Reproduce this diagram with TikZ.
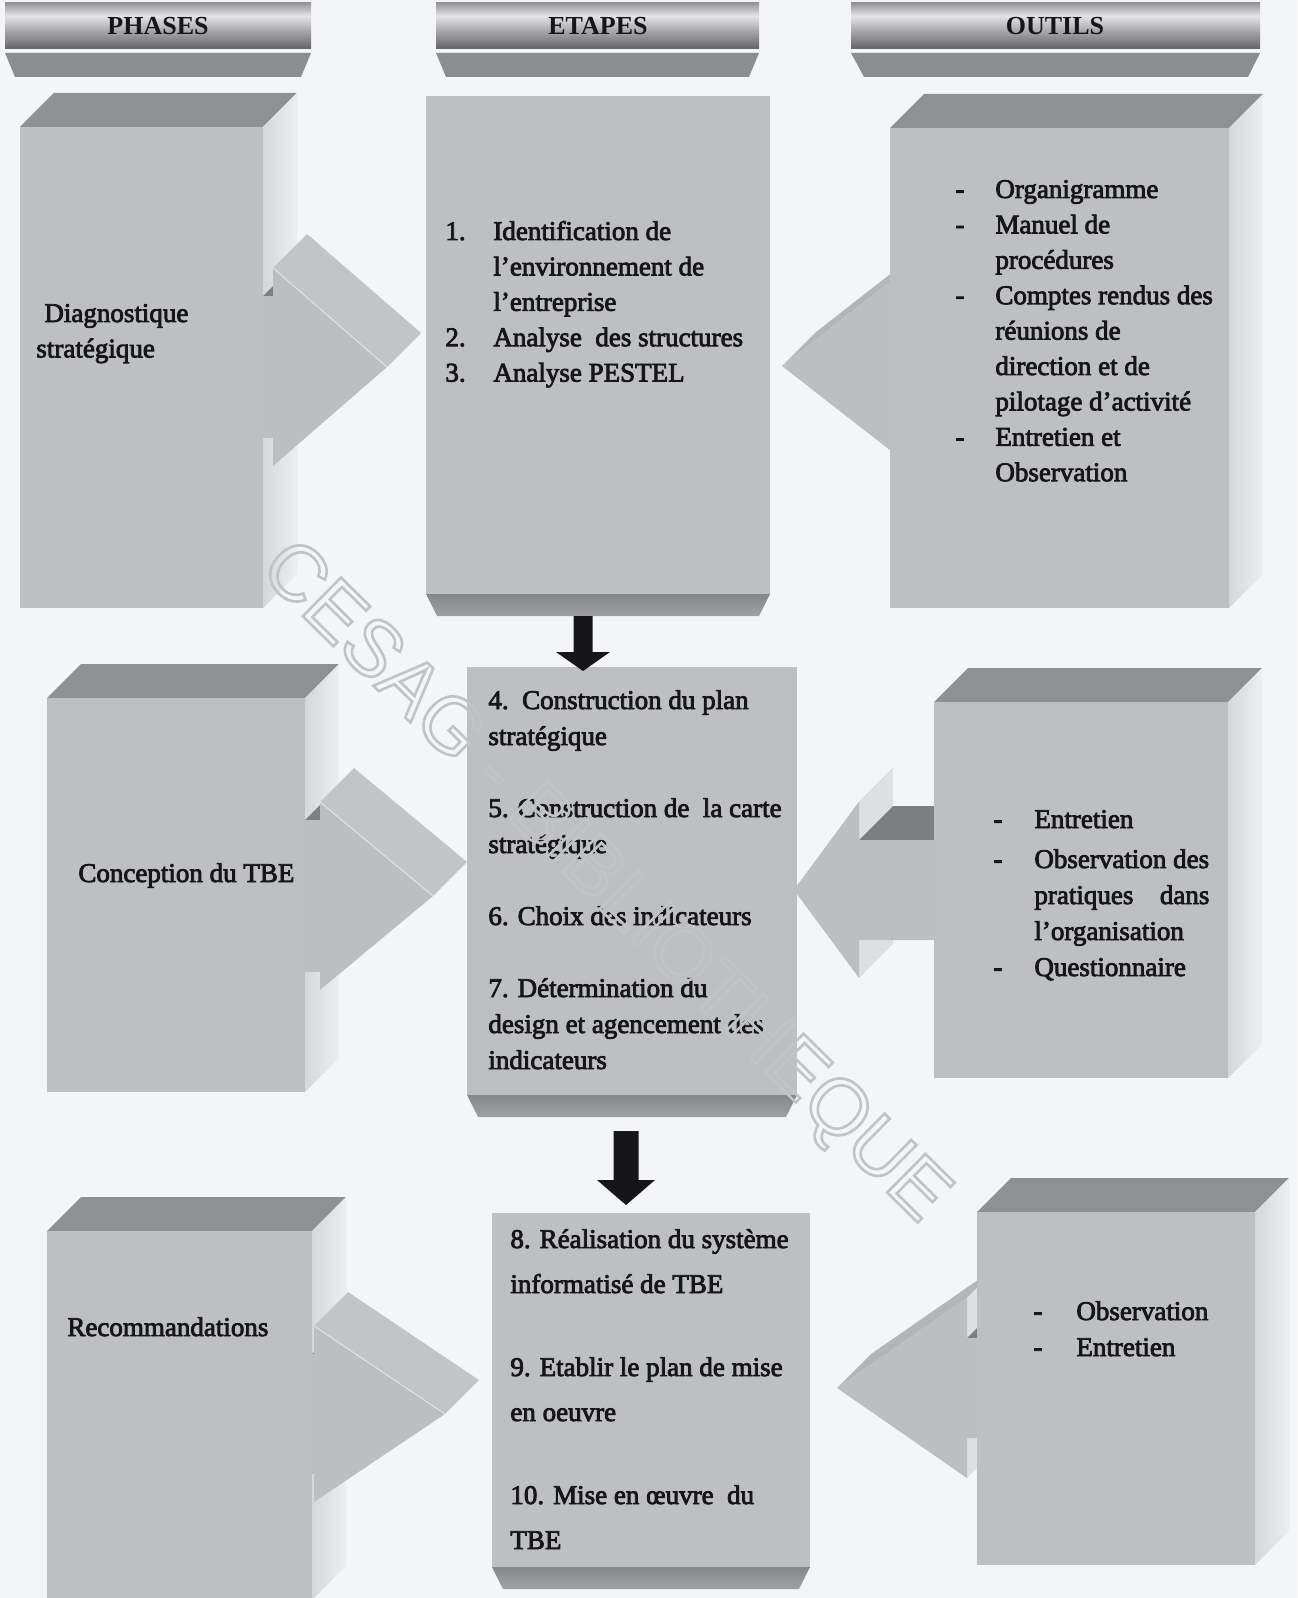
\documentclass[tikz,border=0pt]{standalone}
\usepackage{fontspec}
\setmainfont{Liberation Serif}
\newfontfamily\markfont{Liberation Sans}

\definecolor{paper}{RGB}{243,245,248}
\definecolor{ink}{RGB}{22,22,24}
\definecolor{facefront}{RGB}{190,191,195}
\definecolor{facetop}{RGB}{143,144,147}
\definecolor{facesideA}{RGB}{214,215,219}
\definecolor{facesideB}{RGB}{237,238,241}
\definecolor{facebottomA}{RGB}{134,135,138}
\definecolor{facebottomB}{RGB}{160,161,164}
\definecolor{arrowfront}{RGB}{189,190,194}
\definecolor{arrowtop}{RGB}{195,196,200}
\definecolor{arrowslant}{RGB}{180,181,185}
\definecolor{arrowstep}{RGB}{222,223,226}
\definecolor{arrowshaft}{RGB}{126,127,131}
\definecolor{bandgray}{RGB}{140,141,145}
\definecolor{markline}{RGB}{194,195,199}
\definecolor{barlow}{RGB}{100,100,102}
\definecolor{barmid}{RGB}{168,168,170}
\definecolor{barhigh}{RGB}{228,228,230}
\definecolor{bartop}{RGB}{150,150,152}

\pgfdeclareverticalshading{headbar}{100bp}{%
  color(0bp)=(barlow); color(25bp)=(barlow); color(45bp)=(barmid);
  color(61bp)=(barhigh); color(75bp)=(bartop); color(100bp)=(bartop)}

% depth of the extruded faces, in pixel units
\newcommand\boxdepth{34}

% slightly heavier glyphs (fill and stroke), and back to plain fill
\newcommand\heavyink{\special{pdf:literal direct 2 Tr 0.4 w}}
\newcommand\plainink{\special{pdf:literal direct 0 Tr}}

% block with visible top and right faces: name, x1, y1, x2, y2 of the front face
\newcommand\sidebox[5]{%
  \fill[facetop] (#2,#3) -- (#2+\boxdepth,#3-\boxdepth) -- (#4+\boxdepth,#3-\boxdepth) -- (#4,#3) -- cycle;
  \shade[left color=facesideA,right color=facesideB] (#4,#3) -- (#4+\boxdepth,#3-\boxdepth)
        -- (#4+\boxdepth,#5-\boxdepth) -- (#4,#5) -- cycle;
  \fill[facefront] (#2,#3) rectangle (#4,#5);
  \coordinate (#1) at (#2/2+#4/2,#3/2+#5/2);
}

% block with a bevelled bottom face: name, x1, y1, x2, y2 of the front face
\newcommand\stagebox[5]{%
  \shade[top color=facebottomA,bottom color=facebottomB] (#2,#5) -- (#4,#5) -- (#4-11,#5+22) -- (#2+11,#5+22) -- cycle;
  \fill[facefront] (#2,#3) rectangle (#4,#5);
  \coordinate (#1) at (#2/2+#4/2,#3/2+#5/2);
}

% extruded arrow pointing right: shaft start x, head base x, centre y, head half height, head length, shaft half height
\newcommand\rightblock[6]{%
  \fill[arrowshaft] (#1,#3-#6) -- (#1+\boxdepth,#3-#6-\boxdepth) -- (#2+\boxdepth,#3-#6-\boxdepth) -- (#2,#3-#6) -- cycle;
  \fill[arrowfront] (#1,#3-#6) rectangle (#2,#3+#6);
  \fill[arrowfront] (#2,#3-#4) -- (#2+#5,#3) -- (#2,#3+#4) -- cycle;
  \fill[arrowtop] (#2,#3-#4) -- (#2+\boxdepth,#3-#4-\boxdepth) -- (#2+#5+\boxdepth,#3-\boxdepth) -- (#2+#5,#3) -- cycle;
  \draw[ridge] (#2,#3-#4) -- (#2+#5,#3);
}

% extruded arrow pointing left: tip x, head base x, shaft end x, centre y, head half height, shaft half height
\newcommand\leftblock[6]{%
  \fill[arrowslant] (#1,#4) -- (#1+\boxdepth,#4-\boxdepth) -- (#2+\boxdepth,#4-#5-\boxdepth) -- (#2,#4-#5) -- cycle;
  \fill[arrowstep] (#2,#4-#5) -- (#2+\boxdepth,#4-#5-\boxdepth) -- (#2+\boxdepth,#4-#6-\boxdepth) -- (#2,#4-#6) -- cycle;
  \fill[arrowstep] (#2,#4+#6) -- (#2+\boxdepth,#4+#6-\boxdepth) -- (#2+\boxdepth,#4+#5-\boxdepth) -- (#2,#4+#5) -- cycle;
  \fill[arrowshaft] (#2,#4-#6) -- (#2+\boxdepth,#4-#6-\boxdepth) -- (#3+\boxdepth,#4-#6-\boxdepth) -- (#3,#4-#6) -- cycle;
  \fill[arrowfront] (#1,#4) -- (#2,#4-#5) -- (#2,#4-#6) -- (#3,#4-#6) -- (#3,#4+#6) -- (#2,#4+#6) -- (#2,#4+#5) -- cycle;
}

\begin{document}
\begin{tikzpicture}[x=0.5pt,y=-0.5pt,
  txt/.style={inner sep=0pt,anchor=base west,text=ink,font=\fontsize{13.5}{17.7}\selectfont},
  headtext/.style={inner sep=0pt,text=ink,font=\bfseries\fontsize{13}{15}\selectfont},
  ridge/.style={draw=white!55!arrowfront,line width=0.5pt}]
\useasboundingbox (0,0) rectangle (1297,1598);
\begin{scope}
\clip (0,0) rectangle (1297,1598);
\fill[paper] (0,0) rectangle (1297,1598);

% column headings
\shade[shading=headbar] (5,3) rectangle (311,49);
\shade[shading=headbar] (436,3) rectangle (759,49);
\shade[shading=headbar] (851,3) rectangle (1260,49);
\fill[bandgray] (5,53) -- (311,53) -- (301,77) -- (15,77) -- cycle;
\fill[bandgray] (436,53) -- (759,53) -- (749,77) -- (446,77) -- cycle;
\fill[bandgray] (851,53) -- (1260,53) -- (1248,77) -- (864,77) -- cycle;

% phase blocks
\sidebox{L1}{20}{127}{263}{608}
\sidebox{L2}{47}{698}{305}{1092}
\sidebox{L3}{47}{1231}{312}{1600}

% arrows from phases to steps
\rightblock{263}{273}{367}{99}{114}{71}
\rightblock{305}{320}{896}{94}{113}{76}
\rightblock{312}{314}{1414}{88}{131}{60}

% step blocks
\stagebox{M1}{426}{96}{770}{594}
\stagebox{M2}{467}{667}{797}{1095}
\stagebox{M3}{492}{1213}{810}{1567}

% arrows from tools to steps
\leftblock{782}{900}{900}{366}{92}{55}
\leftblock{794}{859}{934}{890}{88}{50}
\leftblock{837}{967}{977}{1388}{90}{50}

% tool blocks
\sidebox{R1}{890}{128}{1229}{608}
\sidebox{R2}{934}{702}{1228}{1078}
\sidebox{R3}{977}{1212}{1255}{1565}

% black arrows between the step blocks
\coordinate (m1s) at (583,616);
\coordinate (m2n) at (583,671);
\coordinate (m2s) at (626,1131);
\coordinate (m3n) at (626,1205);
\fill[ink] (m1s) ++(-9.5,0) -- ++(19,0) -- ++(0,36) -- ++(17.5,0) -- (m2n) -- ++(-27,-19) -- ++(17.5,0) -- cycle;
\fill[ink] (m2s) ++(-12.5,0) -- ++(25,0) -- ++(0,49) -- ++(16.5,0) -- (m3n) -- ++(-29,-25) -- ++(16.5,0) -- cycle;

% headings
\node[headtext] (tphases) at (158,26) {PHASES};
\node[headtext] (tetapes) at (598,26) {ETAPES};
\node[headtext] (toutils) at (1055,26) {OUTILS};

% phases
\node[txt] (pdiag) at (36,322) {\heavyink\parbox[t]{150pt}{\fontsize{13.5}{17.7}\selectfont
  \hspace*{4pt}Diagnostique\\stratégique}\plainink};
\node[txt] (pconc) at (78,882) {\heavyink Conception du TBE\plainink};
\node[txt] (preco) at (67,1336) {\heavyink Recommandations\plainink};

% steps
\node[txt] (esteps1) at (445,240) {\heavyink\parbox[t]{220pt}{\fontsize{13.5}{17.7}\selectfont
  \makebox[24pt][l]{1.}Identification de\\
  \hspace*{24pt}l’environnement de\\
  \hspace*{24pt}l’entreprise\\
  \makebox[24pt][l]{2.}Analyse\ \ des structures\\
  \makebox[24pt][l]{3.}Analyse PESTEL}\plainink};
\node[txt] (esteps2) at (488,709) {\heavyink\parbox[t]{220pt}{\fontsize{13.5}{18}\selectfont
  4.\ \ Construction du plan\\
  stratégique\\[18pt]
  5. Construction de\ \ la carte\\
  stratégique\\[18pt]
  6. Choix des indicateurs\\[18pt]
  7. Détermination du\\
  design et agencement des\\
  indicateurs}\plainink};
\node[txt] (esteps3) at (510,1248) {\heavyink\parbox[t]{220pt}{\fontsize{13.5}{22.5}\selectfont
  8. Réalisation du système\\
  informatisé de TBE\\[19pt]
  9. Etablir le plan de mise\\
  en oeuvre\\[19pt]
  10. Mise en œuvre\ \ du\\
  TBE}\plainink};

% tools
\node[txt] (otools1) at (955,198) {\heavyink\parbox[t]{200pt}{\fontsize{13.5}{17.7}\selectfont
  \makebox[20pt][l]{-}Organigramme\\
  \makebox[20pt][l]{-}Manuel de\\
  \hspace*{20pt}procédures\\
  \makebox[20pt][l]{-}Comptes rendus des\\
  \hspace*{20pt}réunions de\\
  \hspace*{20pt}direction et de\\
  \hspace*{20pt}pilotage d’activité\\
  \makebox[20pt][l]{-}Entretien et\\
  \hspace*{20pt}Observation}\plainink};
\node[txt] (otools2) at (993,828) {\heavyink\parbox[t]{200pt}{\fontsize{13.5}{18}\selectfont
  \makebox[20.5pt][l]{-}Entretien\\[2pt]
  \makebox[20.5pt][l]{-}Observation des\\
  \hspace*{20.5pt}\hbox to 87.5pt{pratiques\hfill dans}\\
  \hspace*{20.5pt}l’organisation\\
  \makebox[20.5pt][l]{-}Questionnaire}\plainink};
\node[txt] (otools3) at (1033,1320) {\heavyink\parbox[t]{200pt}{\fontsize{13.5}{18}\selectfont
  \makebox[21.5pt][l]{-}Observation\\
  \makebox[21.5pt][l]{-}Entretien}\plainink};

% outlined stamp across the sheet
\node[rotate=-44.6,inner sep=0pt,text=markline,font=\markfont\fontsize{39.5}{40}\selectfont] (stamp) at (603,884)
  {\special{pdf:literal direct 1 Tr 1.3 w}CESAG - BIBLIOTHEQUE\plainink};
\end{scope}
\end{tikzpicture}
\end{document}
